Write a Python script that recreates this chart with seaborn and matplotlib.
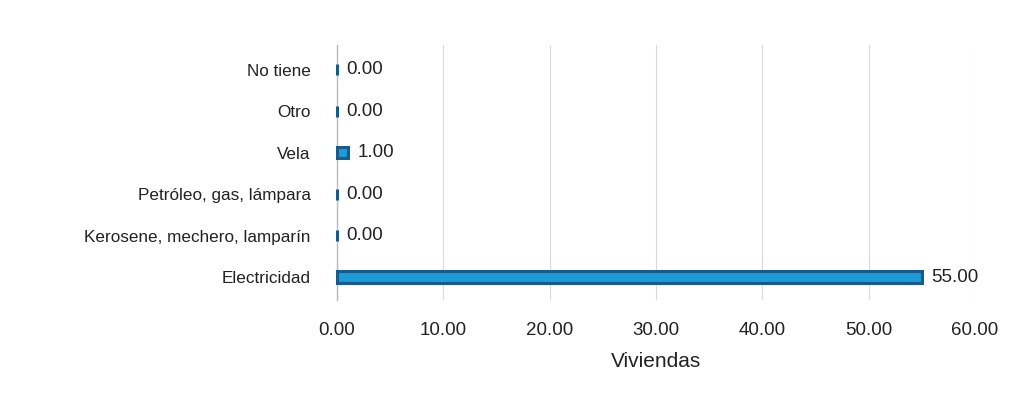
import matplotlib
matplotlib.use("Agg")
import matplotlib.pyplot as plt
import seaborn as sns
import pandas as pd

categorias = ["No tiene", "Otro", "Vela", "Petróleo, gas, lámpara",
              "Kerosene, mechero, lamparín", "Electricidad"]
viviendas = [0.0, 0.0, 1.0, 0.0, 0.0, 55.0]
xticks = [0, 10, 20, 30, 40, 50, 60]

sns.set_theme(style="white")
plt.rcParams['font.family'] = ['Liberation Sans', 'DejaVu Sans']

df = pd.DataFrame({"cat": categorias, "val": viviendas})

fig = plt.figure(figsize=(10.35, 4.08), dpi=100)
ax = fig.add_axes([0.3256, 0.265, 0.6165, 0.625])

sns.barplot(data=df, y="cat", x="val", order=categorias, orient="h",
            color="#1b9ad6", saturation=1, edgecolor="#1a5a8a", linewidth=2.2,
            width=0.27, ax=ax)
for p in ax.patches:
    p.set_zorder(4)
    p.set_clip_on(False)

for c in ax.containers:
    ax.bar_label(c, labels=[f"{v:.2f}" for v in viviendas], padding=7,
                 fontsize=13.5, color="#222222")

ax.set_xlim(0, 60)
ax.set_ylim(5.55, -0.6)
ax.set_xticks(xticks)
ax.set_xticklabels([f"{v:.2f}" for v in xticks], fontsize=13.5, color="#222222")
ax.tick_params(axis="y", labelsize=12.3, labelcolor="#222222", length=0, pad=19)
ax.tick_params(axis="x", length=0, pad=16)
ax.set_ylabel("")
ax.set_xlabel("Viviendas", fontsize=15, color="#222222", labelpad=9)
ax.grid(axis="x", color="#d9d9d9", linewidth=0.8)
ax.set_axisbelow(True)
for s in ["top", "right", "bottom"]:
    ax.spines[s].set_visible(False)
ax.spines["left"].set_color("#bbbbbb")
ax.spines["left"].set_linewidth(1.0)

fig.savefig("out.png", dpi=100, facecolor="white")
